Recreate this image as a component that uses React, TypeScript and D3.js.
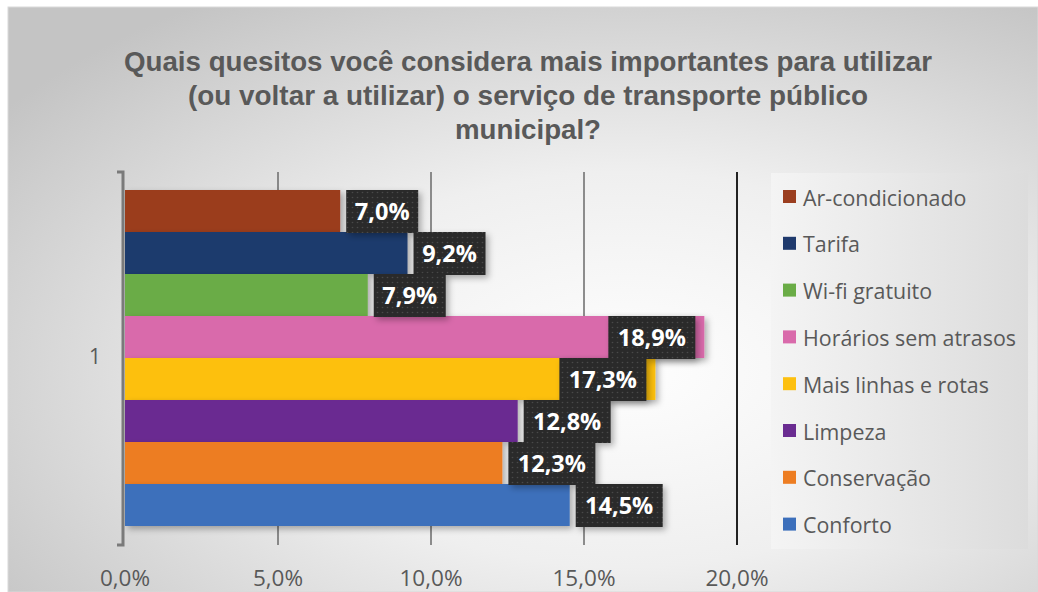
import React from "react";
import * as d3 from "d3";

const W = 1038;
const H = 592;

// data
const category = ["1"];
const series = [
  "Ar-condicionado",
  "Tarifa",
  "Wi-fi gratuito",
  "Horários sem atrasos",
  "Mais linhas e rotas",
  "Limpeza",
  "Conservação",
  "Conforto",
];
const values = [7.0, 9.2, 7.9, 18.9, 17.3, 12.8, 12.3, 14.5];
const colors = [
  "#9b3e1f",
  "#1f3a6d",
  "#6aac46",
  "#d96aab",
  "#fdc010",
  "#6a2c91",
  "#ed7d22",
  "#3c6fbb",
];
const xTicks = [0, 5, 10, 15, 20];
const titleLines = [
  "Quais quesitos você considera mais importantes para utilizar",
  "(ou voltar a utilizar) o serviço de transporte público",
  "municipal?",
];

const plot = { left: 125, right: 737, top: 172, bottom: 545 };
const fmt = (v: number) => v.toFixed(1).replace(".", ",") + "%";
const txtFont = "'Open Sans', 'Noto Sans', sans-serif";

export default function App() {
  const x = d3.scaleLinear().domain([0, 20]).range([plot.left, plot.right]);
  const yCat = d3.scaleBand().domain(category).range([plot.top, plot.bottom]);
  const yS = d3
    .scaleBand()
    .domain(series)
    .range([plot.top + 18, plot.bottom - 19]);

  const bh = yS.bandwidth();

  return (
    <svg
      width={W}
      height={H}
      style={{ position: "absolute", left: 0, top: 0 }}
    >
      <defs>
        <radialGradient id="bg" cx="0.6" cy="0.62" r="0.75">
          <stop offset="0" stopColor="#fefefe" />
          <stop offset="0.45" stopColor="#efefef" />
          <stop offset="1" stopColor="#c4c4c4" />
        </radialGradient>
        <linearGradient id="lg" x1="0" x2="1" y1="0" y2="0">
          <stop offset="0" stopColor="#f4f4f4" />
          <stop offset="1" stopColor="#dcdcdc" />
        </linearGradient>
        <pattern id="dots" width="5" height="5" patternUnits="userSpaceOnUse">
          <rect width="5" height="5" fill="#2a2a2a" />
          <circle cx="2.5" cy="2.5" r="0.8" fill="#4a4a4a" />
        </pattern>
        <filter id="sh" x="-10%" y="-20%" width="130%" height="160%">
          <feDropShadow dx="3" dy="3" stdDeviation="3" floodColor="#000" floodOpacity="0.3" />
        </filter>
      </defs>

      <rect x={0} y={0} width={W} height={H} fill="#fff" />
      <rect x={8} y={7} width={W - 8} height={H - 7} fill="url(#bg)" stroke="#d9d9d9" />

      {/* title */}
      {titleLines.map((t, i) => (
        <text
          key={i}
          x={528}
          y={71 + i * 34}
          textAnchor="middle"
          fontFamily="'Liberation Sans Narrow', 'Arial Narrow', 'Liberation Sans', sans-serif"
          fontWeight="bold"
          fontSize={27}
          fill="#595959"
          textLength={[808, 680, 146][i]}
          lengthAdjust="spacingAndGlyphs"
        >
          {t}
        </text>
      ))}

      {/* gridlines */}
      {xTicks.slice(1).map((t) => (
        <line
          key={t}
          x1={x(t)}
          x2={x(t)}
          y1={plot.top}
          y2={plot.bottom}
          stroke={t === 20 ? "#222" : "#6a6a6a"}
          strokeWidth={t === 20 ? 2 : 1.5}
        />
      ))}

      {/* bars */}
      {series.map((s, i) => (
        <rect
          key={s}
          x={x(0)}
          y={yS(s)}
          width={x(values[i]) - x(0) + 1}
          height={bh}
          fill={colors[i]}
          filter="url(#sh)"
        />
      ))}

      {/* left axis */}
      <path
        d={`M117,${plot.top}H${plot.left - 2}V${plot.bottom}H117`}
        fill="none"
        stroke="#7a7a7a"
        strokeWidth={3}
      />
      {category.map((c) => (
        <text
          key={c}
          x={95}
          y={(yCat(c) ?? 0) + yCat.bandwidth() / 2}
          textAnchor="middle"
          dominantBaseline="middle"
          fontFamily={txtFont}
          fontSize={21}
          fill="#595959"
        >
          {c}
        </text>
      ))}

      {/* x tick labels */}
      {xTicks.map((t) => (
        <text
          key={t}
          x={x(t)}
          y={586}
          textAnchor="middle"
          fontFamily={txtFont}
          fontSize={22.5}
          fill="#595959"
        >
          {fmt(t)}
        </text>
      ))}

      {/* data labels */}
      {series.map((s, i) => {
        const label = fmt(values[i]);
        const bw = 12 + label.length * 15;
        const end = x(values[i]);
        let bx = end + 7;
        if (bx + bw > plot.right) bx = end - 8 - bw;
        const by = yS(s) ?? 0;
        return (
          <g key={s}>
            <rect x={bx} y={by} width={bw} height={bh + 1} fill="url(#dots)" filter="url(#sh)" />
            <text
              x={bx + bw / 2}
              y={by + bh / 2 + 8.5}
              textAnchor="middle"
              fontFamily={txtFont}
              fontWeight="bold"
              fontSize={23.5}
              fill="#fff"
            >
              {label}
            </text>
          </g>
        );
      })}

      {/* legend */}
      <rect x={771} y={173} width={257} height={376} fill="url(#lg)" />
      {series.map((s, i) => (
        <g key={s} transform={`translate(783, ${197 + i * 46.8})`}>
          <rect x={0} y={-7} width={13} height={13} fill={colors[i]} />
          <text
            x={20}
            y={0}
            dominantBaseline="central"
            fontFamily={txtFont}
            fontSize={21.4}
            fill="#595959"
          >
            {s}
          </text>
        </g>
      ))}
    </svg>
  );
}
